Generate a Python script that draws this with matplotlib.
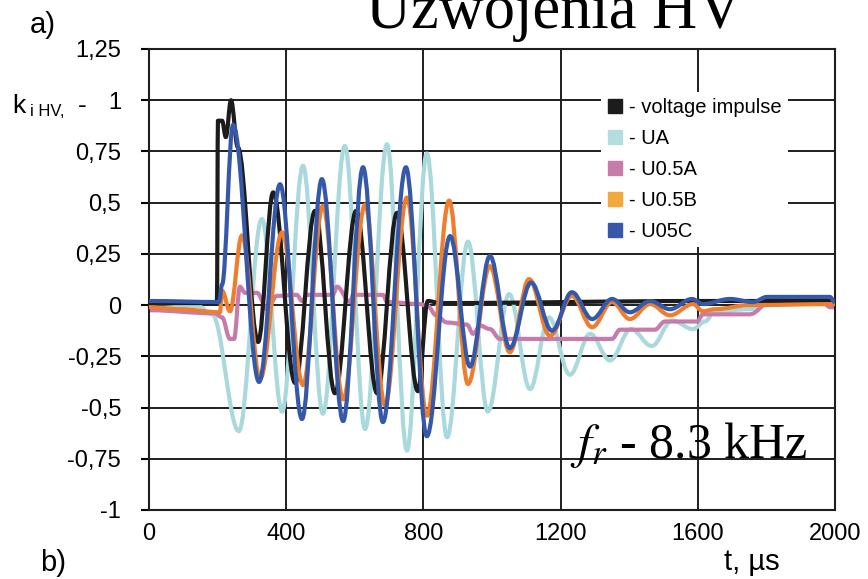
import matplotlib
matplotlib.use('Agg')
import matplotlib.pyplot as plt
from matplotlib.lines import Line2D
from matplotlib.path import Path
from matplotlib.patches import PathPatch

plt.rcParams['mathtext.fontset'] = 'stix'
SANS = ['Liberation Sans', 'DejaVu Sans']
SERIF = ['Liberation Serif', 'DejaVu Serif']

# ---------- values (t in us) ----------
t_imp = [0, 198, 201, 213, 224, 239, 259, 318, 362, 426, 484, 542, 604, 665,
         723, 784, 813, 848, 1600, 2000]
k_imp = [0.01, 0.01, 0.90, 0.90, 0.82, 1.00, 0.77, -0.18, 0.55, -0.38, 0.46,
         -0.43, 0.46, -0.43, 0.45, -0.42, 0.02, 0.01, 0.02, 0.02]

t_ua = [0, 143, 184, 262, 329, 388, 449, 507, 571, 630, 694, 752, 810, 869,
        930, 988, 1050, 1111, 1166, 1227, 1286, 1344, 1405, 1466, 1525, 1586,
        1621, 1650, 1752, 1810, 2000]
k_ua = [-0.015, -0.005, -0.045, -0.615, 0.42, -0.52, 0.68, -0.53, 0.777,
        -0.605, 0.785, -0.71, 0.74, -0.645, 0.31, -0.52, 0.054, -0.41, -0.06,
        -0.34, -0.14, -0.27, -0.117, -0.2, -0.075, -0.117, -0.08, -0.03,
        -0.02, 0.005, 0.01]

t_u05a = [0, 192, 213, 236, 248, 265, 280, 315, 344, 373, 431, 446, 461, 536,
          548, 586, 595, 682, 694, 790, 813, 837, 869, 927, 945, 965, 994,
          1023, 1350, 1373, 1475, 1504, 1598, 1615, 1752, 1810, 1965, 1985,
          2000]
k_u05a = [-0.025, -0.04, -0.06, -0.165, -0.165, 0.09, 0.06, 0.06, -0.02,
          0.045, 0.05, 0.02, 0.05, 0.05, 0.09, 0.015, 0.05, 0.05, 0.015,
          0.005, -0.005, -0.05, -0.085, -0.095, -0.14, -0.10, -0.117, -0.165,
          -0.165, -0.12, -0.12, -0.08, -0.08, -0.045, -0.045, 0.015, 0.015,
          -0.01, -0.01]

t_u05b = [0, 90, 207, 213, 236, 271, 324, 388, 449, 507, 566, 630, 688, 752,
          810, 875, 930, 994, 1052, 1108, 1169, 1233, 1292, 1350, 1402, 1461,
          1519, 1586, 1615, 1650, 1750, 2000]
k_u05b = [-0.01, -0.02, -0.035, 0.07, -0.03, 0.34, -0.36, 0.355, -0.39,
          0.485, -0.46, 0.49, -0.49, 0.525, -0.54, 0.51, -0.385, 0.19, -0.23,
          0.127, -0.15, 0.045, -0.108, 0.015, -0.068, 0.005, -0.05, 0.005,
          -0.03, -0.02, 0.0, 0.005]

t_u05c = [0, 204, 213, 245, 321, 382, 446, 504, 566, 624, 682, 749, 810, 878,
          936, 994, 1052, 1114, 1175, 1233, 1292, 1350, 1402, 1461, 1519, 1583,
          1615, 1694, 1761, 1802, 1985, 2000]
k_u05c = [0.02, 0.015, 0.10, 0.88, -0.375, 0.59, -0.556, 0.615, -0.566, 0.673,
          -0.571, 0.673, -0.64, 0.337, -0.30, 0.24, -0.21, 0.11, -0.125, 0.063,
          -0.068, 0.03, -0.035, 0.02, -0.02, 0.03, 0.005, 0.03, 0.015, 0.04,
          0.04, 0.015]

y_ticks = [1.25, 1, 0.75, 0.5, 0.25, 0, -0.25, -0.5, -0.75, -1]
y_labels = ['1,25', '1', '0,75', '0,5', '0,25', '0', '-0,25', '-0,5', '-0,75', '-1']
x_ticks = [0, 400, 800, 1200, 1600, 2000]
x_labels = ['0', '400', '800', '1200', '1600', '2000']

series = [
    # label, t, k, line colour, legend colour, zorder
    ('- voltage impulse', t_imp, k_imp, '#1c1c1c', '#1c1c1c', 3),
    ('- UA', t_ua, k_ua, '#a9d9dd', '#b3dde0', 1),
    ('- U0.5A', t_u05a, k_u05a, '#c77bab', '#c77bab', 2),
    ('- U0.5B', t_u05b, k_u05b, '#ee7d2e', '#f2a83e', 4),
    ('- U05C', t_u05c, k_u05c, '#3558a8', '#3558a8', 5),
]


def wave_path(t, k, f=0.364):
    # smooth bezier through the read extrema (flat tangent at each point)
    verts = [(t[0], k[0])]
    codes = [Path.MOVETO]
    for i in range(1, len(t)):
        d = (t[i] - t[i - 1]) * f
        verts += [(t[i - 1] + d, k[i - 1]), (t[i] - d, k[i]), (t[i], k[i])]
        codes += [Path.CURVE4] * 3
    return Path(verts, codes)


W, H = 868, 579
fig = plt.figure(figsize=(W / 100, H / 100), dpi=100)
ax = fig.add_axes([149 / W, 1 - 510 / H, 686 / W, 461 / H])


def px(x, y):
    return x / W, 1 - y / H


for name, t, k, col, _, z in series:
    ax.add_patch(PathPatch(wave_path(t, k), fill=False, edgecolor=col,
                           lw=3.0, zorder=z, joinstyle='round'))

ax.set_xlim(0, 2000)
ax.set_ylim(-1, 1.25)
ax.set_xticks(x_ticks)
ax.set_xticklabels(x_labels, fontsize=17, family=SANS)
ax.set_yticks(y_ticks)
ax.set_yticklabels(y_labels, fontsize=17, family=SANS)
ax.tick_params(axis='x', length=0, pad=9)
ax.tick_params(axis='y', direction='out', length=6, width=1.5, pad=14)
ax.grid(True, color='#1e1e1e', lw=1.4, zorder=0)
ax.set_axisbelow(True)
for s in ax.spines.values():
    s.set_color('#1e1e1e')
    s.set_linewidth(1.5)

handles = [Line2D([], [], ls='none', marker='s', ms=9.5, mfc=lc, mec=lc)
           for _, _, _, _, lc, _ in series]
leg = ax.legend(handles, [s[0] for s in series], loc='upper left',
                bbox_to_anchor=((601 - 149) / 686, (510 - 92) / 461),
                frameon=True, fancybox=False, framealpha=1, edgecolor='none',
                facecolor='white', handlelength=0.8, handletextpad=0.3,
                labelspacing=0.6, borderpad=0.3, borderaxespad=0,
                prop={'family': SANS, 'size': 14.5})
leg.set_zorder(10)

# titles and annotations
fig.text(*px(742, 28), 'Uzwojenia HV', ha='right', va='baseline',
         fontsize=45, family=SERIF)
fig.text(*px(808, 458), r'$f_r$ - 8.3 kHz', ha='right',
         va='baseline', fontsize=36, family=SERIF)
fig.text(*px(30, 33), 'a)', ha='left', va='baseline', fontsize=21, family=SANS)
fig.text(*px(40, 571), 'b)', ha='left', va='baseline', fontsize=21, family=SANS)
fig.text(*px(12, 113), 'k', ha='left', va='baseline', fontsize=19, family=SANS)
fig.text(*px(30, 116), 'i HV,', ha='left', va='baseline', fontsize=12, family=SANS)
fig.text(*px(78, 113), '-', ha='left', va='baseline', fontsize=19, family=SANS)
fig.text(*px(752, 570), 't, \u00b5s', ha='center', va='baseline', fontsize=21,
         family=SANS)

fig.savefig('out.png', dpi=100)
